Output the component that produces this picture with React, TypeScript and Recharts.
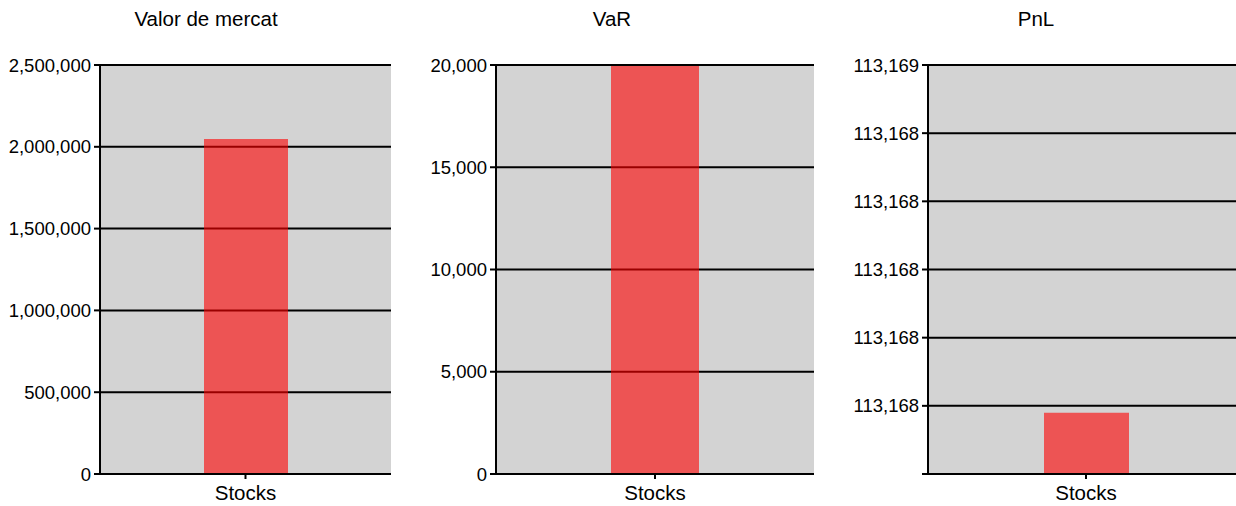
import React from "react";
import { BarChart, Bar, XAxis, YAxis, CartesianGrid } from "recharts";

const categories = ["Stocks"];
const marketValues = [2048000];
const varValues = [19950];
const pnlValues = [113168.49];

const marketTicks = [0, 500000, 1000000, 1500000, 2000000, 2500000];
const varTicks = [0, 5000, 10000, 15000, 20000];
const pnlTicks = [113168.4, 113168.5, 113168.6, 113168.7, 113168.8, 113168.9, 113169.0];
const pnlTickLabels = ["", "113,168", "113,168", "113,168", "113,168", "113,168", "113,169"];

const titles = ["Valor de mercat", "VaR", "PnL"];

const FONT = "'Liberation Sans', Arial, sans-serif";

const fmt = (v: number) => Math.round(v).toLocaleString("en-US");

type PanelProps = {
  left: number;
  width: number;
  yWidth: number;
  marginRight: number;
  values: number[];
  ticks: number[];
  formatter: (v: number, i: number) => string;
  barSize: number;
};

function Panel({ left, width, yWidth, marginRight, values, ticks, formatter, barSize }: PanelProps) {
  const data = categories.map((c, i) => ({ name: c, value: values[i] }));
  return (
    <div style={{ position: "absolute", left, top: 0 }}>
      <BarChart
        width={width}
        height={506}
        data={data}
        margin={{ top: 65, right: marginRight, bottom: 0, left: 0 }}
        barCategoryGap={0}
      >
        <CartesianGrid
          vertical={false}
          stroke="#000"
          strokeWidth={2}
          fill="#d3d3d3"
          fillOpacity={1}
        />
        <XAxis
          dataKey="name"
          height={32}
          axisLine={{ stroke: "#000", strokeWidth: 2 }}
          tickLine={{ stroke: "#000", strokeWidth: 2 }}
          tickSize={5}
          tickMargin={6}
          tick={{ fill: "#000", fontSize: 20.5, fontFamily: FONT }}
        />
        <YAxis
          width={yWidth}
          domain={[ticks[0], ticks[ticks.length - 1]]}
          ticks={ticks}
          interval={0}
          allowDataOverflow
          axisLine={{ stroke: "#000", strokeWidth: 2 }}
          tickLine={{ stroke: "#000", strokeWidth: 2 }}
          tickSize={6}
          tickMargin={3}
          tickFormatter={formatter}
          tick={{ fill: "#000", fontSize: 18.5, fontFamily: FONT }}
        />
        <YAxis
          yAxisId="right"
          orientation="right"
          width={0}
          tick={false}
          tickLine={false}
          axisLine={{ stroke: "#000", strokeWidth: 2 }}
        />
        <Bar
          dataKey="value"
          fill="#ff0000"
          fillOpacity={0.6}
          barSize={barSize}
          isAnimationActive={false}
        />
      </BarChart>
    </div>
  );
}

export default function App() {
  const titleStyle = (left: number, width: number): React.CSSProperties => ({
    position: "absolute",
    left,
    width,
    top: 9,
    textAlign: "center",
    fontFamily: FONT,
    fontSize: 20.5,
    lineHeight: "20px",
    color: "#000",
  });
  return (
    <div
      style={{
        position: "absolute",
        left: 0,
        top: 0,
        width: 1236,
        height: 506,
        overflow: "hidden",
        background: "#fff",
      }}
    >
      <div style={titleStyle(0, 412)}>{titles[0]}</div>
      <div style={titleStyle(412, 400)}>{titles[1]}</div>
      <div style={titleStyle(824, 424)}>{titles[2]}</div>
      <Panel
        left={0}
        width={412}
        yWidth={100}
        marginRight={21}
        values={marketValues}
        ticks={marketTicks}
        formatter={(v) => fmt(v)}
        barSize={84}
      />
      <Panel
        left={412}
        width={412}
        yWidth={84}
        marginRight={10}
        values={varValues}
        ticks={varTicks}
        formatter={(v) => fmt(v)}
        barSize={88}
      />
      <Panel
        left={824}
        width={420}
        yWidth={104}
        marginRight={0}
        values={pnlValues}
        ticks={pnlTicks}
        formatter={(_v, i) => pnlTickLabels[i]}
        barSize={85}
      />
    </div>
  );
}
